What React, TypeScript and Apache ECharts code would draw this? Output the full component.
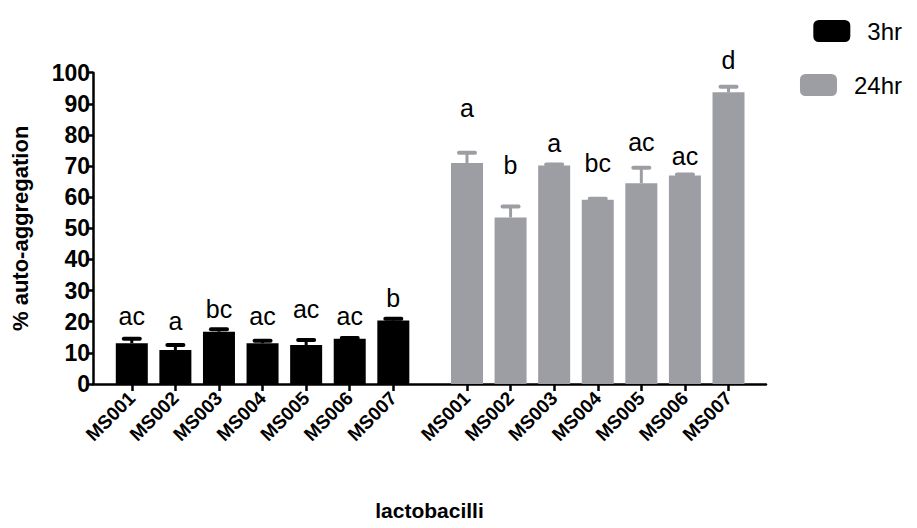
import React, { useEffect, useRef } from "react";
import * as echarts from "echarts";

const strains = ["MS001", "MS002", "MS003", "MS004", "MS005", "MS006", "MS007"];
const seriesNames = ["3hr", "24hr"];
const yTicks = [0, 10, 20, 30, 40, 50, 60, 70, 80, 90, 100];
const mean3hr = [13.1, 10.9, 16.8, 13.1, 12.5, 14.5, 20.4];
const sem3hr = [1.4, 1.6, 0.8, 0.8, 1.6, 0.3, 0.6];
const mean24hr = [71.0, 53.5, 70.2, 59.2, 64.5, 67.0, 93.7];
const sem24hr = [3.3, 3.5, 0.3, 0.3, 5.0, 0.3, 1.8];
const letters3hr = ["ac", "a", "bc", "ac", "ac", "ac", "b"];
const letters24hr = ["a", "b", "a", "bc", "ac", "ac", "d"];
const letterY3hr = [19.5, 17.9, 21.6, 19.5, 21.8, 19.5, 25.1];
const letterY24hr = [86.4, 67.9, 74.9, 68.5, 75.4, 70.9, 101.7];

const GROUP_OFFSET = 7.69;
const colors = ["#000000", "#9d9ea3"];
const FONT = "'Liberation Sans', Arial, Helvetica, sans-serif";

const pos3 = strains.map((_, i) => i + 1);
const pos24 = strains.map((_, i) => i + 1 + GROUP_OFFSET);
const allPos = [...pos3, ...pos24];

function nameAt(v: number) {
  for (let i = 0; i < allPos.length; i++) {
    if (Math.abs(allPos[i] - v) < 0.01) return strains[i % strains.length];
  }
  return "";
}

export default function App() {
  const ref = useRef<HTMLDivElement>(null);
  useEffect(() => {
    document.body.style.margin = "0";
    const chart = echarts.init(ref.current!, null, { renderer: "svg" });

    const errRender = (color: string) => (params: any, api: any) => {
      const x = api.value(0);
      const y = api.value(1);
      const e = api.value(2);
      const base = api.coord([x, y]);
      const top = api.coord([x, y + e]);
      return {
        type: "group",
        children: [
          {
            type: "line",
            shape: { x1: base[0], y1: base[1], x2: top[0], y2: top[1] },
            style: { stroke: color, lineWidth: 3 },
          },
          {
            type: "line",
            shape: { x1: top[0] - 8, y1: top[1], x2: top[0] + 8, y2: top[1] },
            style: { stroke: color, lineWidth: 4, lineCap: "round" },
          },
        ],
      };
    };

    const letterRender = (params: any, api: any) => {
      const x = api.value(0);
      const y = api.value(1);
      const idx = api.value(2);
      const grp = api.value(3);
      const p = api.coord([x, y]);
      const txt = grp === 0 ? letters3hr[idx] : letters24hr[idx];
      return {
        type: "text",
        x: p[0],
        y: p[1] + 5,
        style: {
          text: txt,
          align: "center",
          verticalAlign: "bottom",
          fontSize: 25,
          fontFamily: FONT,
          fill: "#000",
        },
      };
    };

    chart.setOption({
      animation: false,
      grid: { left: 93, right: 151, top: 72.7, bottom: 144 },
      legend: [
        {
          data: [seriesNames[0]],
          right: 10,
          top: 14,
          icon: "roundRect",
          itemWidth: 37,
          itemHeight: 22,
          textStyle: { fontSize: 24, fontFamily: FONT, color: "#000", padding: [0, 0, 0, 12] },
        },
        {
          data: [seriesNames[1]],
          right: 10,
          top: 68,
          icon: "roundRect",
          itemWidth: 37,
          itemHeight: 22,
          textStyle: { fontSize: 24, fontFamily: FONT, color: "#000", padding: [0, 0, 0, 12] },
        },
      ],
      xAxis: {
        type: "value",
        min: 0.11,
        max: 15.55,
        splitLine: { show: false },
        axisLine: { show: true, lineStyle: { color: "#000", width: 2.5 } },
        axisTick: {
          show: true,
          customValues: allPos,
          length: 7,
          lineStyle: { color: "#000", width: 2.5 },
        },
        axisLabel: {
          customValues: allPos,
          formatter: (v: number) => nameAt(v),
          rotate: 45,
          fontSize: 19,
          fontWeight: "bold",
          fontFamily: FONT,
          color: "#000",
          margin: 11,
        },
        name: "lactobacilli",
        nameLocation: "middle",
        nameGap: 116,
        nameTextStyle: { fontSize: 21, fontWeight: "bold", fontFamily: FONT, color: "#000" },
      },
      yAxis: {
        type: "value",
        min: yTicks[0],
        max: yTicks[yTicks.length - 1],
        interval: 10,
        splitLine: { show: false },
        axisLine: { show: true, lineStyle: { color: "#000", width: 2.5 } },
        axisTick: { show: true, length: 6, lineStyle: { color: "#000", width: 2.5 } },
        axisLabel: {
          fontSize: 23,
          fontWeight: "bold",
          fontFamily: FONT,
          color: "#000",
          margin: 3,
        },
        name: "% auto-aggregation",
        nameLocation: "middle",
        nameRotate: 90,
        nameGap: 62,
        nameTextStyle: { fontSize: 22, fontWeight: "bold", fontFamily: FONT, color: "#000" },
      },
      series: [
        {
          name: seriesNames[0],
          type: "bar",
          barWidth: 32,
          barGap: "-100%",
          itemStyle: { color: colors[0] },
          data: mean3hr.map((v, i) => [pos3[i], v]),
          z: 2,
        },
        {
          name: seriesNames[1],
          type: "bar",
          barWidth: 32,
          barGap: "-100%",
          itemStyle: { color: colors[1] },
          data: mean24hr.map((v, i) => [pos24[i], v]),
          z: 2,
        },
        {
          type: "custom",
          renderItem: errRender(colors[0]),
          data: mean3hr.map((v, i) => [pos3[i], v, sem3hr[i]]),
          z: 1,
        },
        {
          type: "custom",
          renderItem: errRender(colors[1]),
          data: mean24hr.map((v, i) => [pos24[i], v, sem24hr[i]]),
          z: 1,
        },
        {
          type: "custom",
          renderItem: letterRender,
          data: [
            ...letterY3hr.map((v, i) => [pos3[i], v, i, 0]),
            ...letterY24hr.map((v, i) => [pos24[i], v, i, 1]),
          ],
          z: 3,
        },
      ],
    });
    return () => chart.dispose();
  }, []);
  return <div ref={ref} style={{ width: 917, height: 528 }} />;
}
